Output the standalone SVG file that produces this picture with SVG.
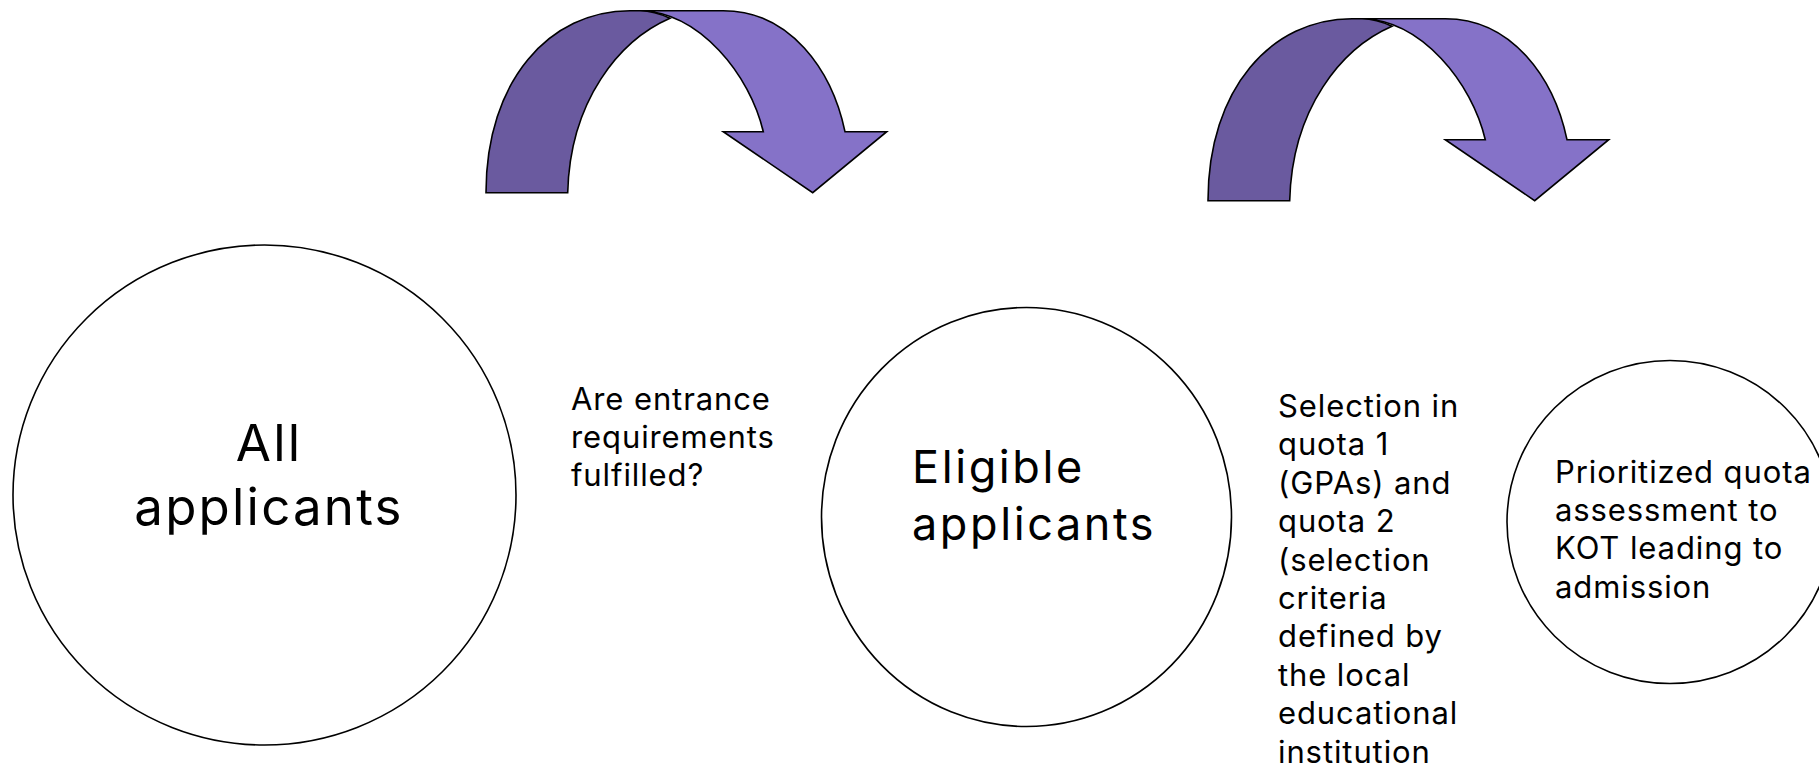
<svg xmlns="http://www.w3.org/2000/svg" xmlns:xlink="http://www.w3.org/1999/xlink" width="1819" height="767" viewBox="0 0 1819 767">
<style>
.bg{fill:#ffffff}
.node{fill:#ffffff;stroke:#000000;stroke-width:1.6}
.dark{fill:#6A5A9F;stroke:#000000;stroke-width:1.6;stroke-linejoin:miter}
.light{fill:#8572C8;stroke:#000000;stroke-width:1.6;stroke-linejoin:miter}
text{font-family:Inter,"Open Sans","Liberation Sans",sans-serif;fill:#000000}
.big{font-size:51px;letter-spacing:2.2px}
.mid{font-size:45px;letter-spacing:2.6px}
.small{font-size:31px;letter-spacing:0.9px}
</style>
<defs>
<g id="curvedArrow">
<path class="light" d="M630,10.7 L723.3,10.7 C790,10.7 832,70 845,131.7 L886.7,131.7 L812.7,192.7 L723.3,131.7 L763.3,131.7 C750,75 700,12 640,10.7 Z"/>
<path class="dark" d="M486,192.7 L567.7,192.7 C570,100 620,40 670,18.3 C660,13.5 650,10.7 640,10.7 L630,10.7 C550,10.7 486,80 486,192.7 Z"/>
</g>
</defs>
<rect class="bg" x="0" y="0" width="1819" height="767"/>
<g id="connectors">
<use id="arrow1" xlink:href="#curvedArrow" href="#curvedArrow"/>
<use id="arrow2" xlink:href="#curvedArrow" href="#curvedArrow" transform="translate(722,8)"/>
</g>
<g id="node-all">
<ellipse class="node" cx="264.5" cy="495" rx="251.5" ry="250"/>
<text class="big" x="269" y="461" text-anchor="middle">All</text>
<text class="big" x="269" y="525" text-anchor="middle">applicants</text>
</g>
<g id="label-entrance">
<text class="small" x="571" y="409.5">Are entrance</text>
<text class="small" x="571" y="447.5">requirements</text>
<text class="small" x="571" y="485.5">fulfilled?</text>
</g>
<g id="node-eligible">
<ellipse class="node" cx="1026.5" cy="517" rx="205" ry="209.5"/>
<text class="mid" x="912" y="483">Eligible</text>
<text class="mid" x="912" y="540">applicants</text>
</g>
<g id="label-selection">
<text class="small" x="1278" y="417">Selection in</text>
<text class="small" x="1278" y="455.4">quota 1</text>
<text class="small" x="1278" y="493.8">(GPAs) and</text>
<text class="small" x="1278" y="532.2">quota 2</text>
<text class="small" x="1278" y="570.6">(selection</text>
<text class="small" x="1278" y="609">criteria</text>
<text class="small" x="1278" y="647.4">defined by</text>
<text class="small" x="1278" y="685.8">the local</text>
<text class="small" x="1278" y="724.2">educational</text>
<text class="small" x="1278" y="762.6">institution</text>
</g>
<g id="node-prioritized">
<ellipse class="node" cx="1670" cy="522" rx="163" ry="161.5"/>
<text class="small" x="1555" y="483">Prioritized quota</text>
<text class="small" x="1555" y="521">assessment to</text>
<text class="small" x="1555" y="559">KOT leading to</text>
<text class="small" x="1555" y="597.5">admission</text>
</g>
</svg>
